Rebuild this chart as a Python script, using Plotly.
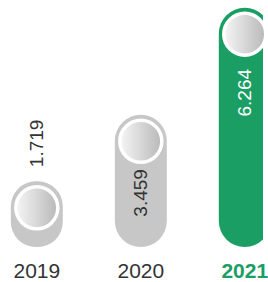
import plotly.graph_objects as go

years = ["2019", "2020", "2021"]
values = [1.719, 3.459, 6.264]
value_labels = ["1.719", "3.459", "6.264"]
tick_labels = ["2019", "2020", "<b><span style='color:#1a9e63'>2021</span></b>"]

GRAY = "#c7c7c7"
GREEN = "#1a9e63"
bar_colors = [GRAY, GRAY, GREEN]
label_colors = ["#333333", "#333333", "#ffffff"]

W, H = 268, 282
MB = 35
plot_h = H - MB
px_per_unit = 38.2
ymax = plot_h / px_per_unit

xs = [0, 1, 2]
bw = 0.5
bar_px = 53
radius_px = bar_px / 2
r_data = radius_px / px_per_unit

fig = go.Figure()
# pill: floating bar (base set) gets both ends rounded
fig.add_trace(go.Bar(
    x=xs, y=values, base=[0] * len(values),
    width=bw, marker=dict(color=bar_colors, cornerradius="50%", line=dict(width=0)),
    hoverinfo="skip", showlegend=False))
# top circles
fig.add_trace(go.Scatter(
    x=xs, y=[v - r_data for v in values], mode="markers", cliponaxis=False,
    marker=dict(size=42, color="#f6f6f6",
                gradient=dict(type="horizontal", color="#b8b8b8"),
                line=dict(color="#ffffff", width=3.5)),
    hoverinfo="skip", showlegend=False))

shifts = [12, -52, -59]
anchors = ["bottom", "top", "top"]
for x, v, t, c, s, a in zip(xs, values, value_labels, label_colors, shifts, anchors):
    fig.add_annotation(x=x, y=v, text=t, textangle=-90, showarrow=False,
                       yanchor=a, xanchor="center", yshift=s,
                       font=dict(family="Liberation Sans, Arial", size=19, color=c))

fig.update_layout(
    width=W, height=H, margin=dict(l=0, r=0, t=0, b=MB),
    paper_bgcolor="white", plot_bgcolor="white", barmode="overlay",
    xaxis=dict(range=[-0.354, 2.175], tickvals=xs, ticktext=tick_labels,
               showgrid=False, zeroline=False, showline=False, ticks="",
               tickfont=dict(family="Liberation Sans, Arial", size=21, color="#333333"),
               ticklabeloverflow="allow", ticklabelstandoff=9),
    yaxis=dict(range=[0, ymax], visible=False, showgrid=False, zeroline=False),
)
fig.write_html("out.html", config={"displayModeBar": False, "staticPlot": True},
               post_script="document.body.style.margin='0';document.body.style.overflow='hidden';")
